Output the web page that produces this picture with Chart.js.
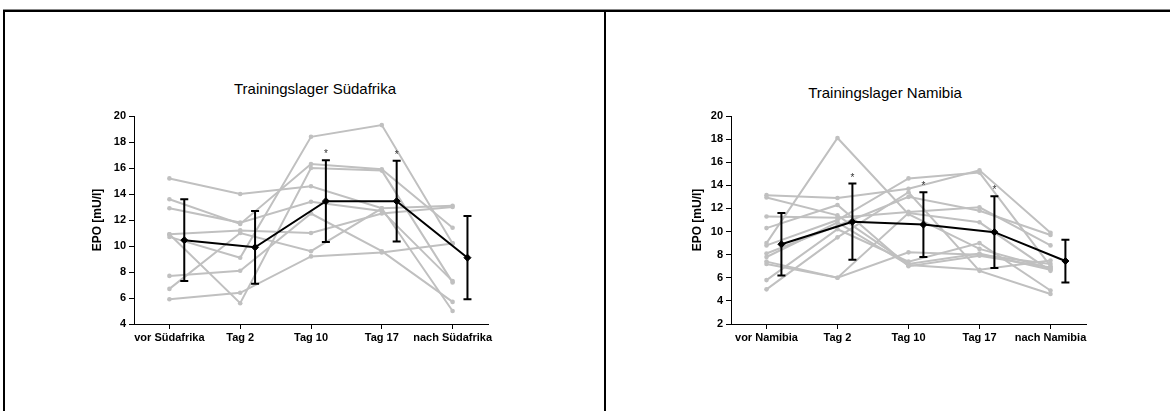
<!DOCTYPE html>
<html>
<head>
<meta charset="utf-8">
<script src="https://cdn.jsdelivr.net/npm/chart.js@4.4.1/dist/chart.umd.min.js"></script>
<style>
  html, body { margin: 0; padding: 0; background: #fff; }
  body { width: 1170px; height: 411px; position: relative; overflow: hidden; font-family: "Liberation Sans", Arial, sans-serif; }
  .ln { position: absolute; background: #000; }
  .ttl { position: absolute; font-size: 15px; color: #000; white-space: nowrap; transform: translate(-50%, -50%); }
  canvas { position: absolute; }
</style>
</head>
<body>
<div class="ln" style="left:3px; top:9px; width:1167px; height:1px; background:#888"></div>
<div class="ln" style="left:3px; top:10px; width:1167px; height:2px;"></div>
<div class="ln" style="left:3px; top:10px; width:2px; height:401px;"></div>
<div class="ln" style="left:604px; top:10px; width:2px; height:401px;"></div>

<div class="ttl" style="left:315px; top:88px;">Trainingslager Südafrika</div>
<div class="ttl" style="left:885px; top:92px;">Trainingslager Namibia</div>

<canvas id="c1" width="598" height="398" style="left:6px; top:13px;"></canvas>
<canvas id="c2" width="563" height="398" style="left:607px; top:13px;"></canvas>

<script>
// ---------- Data: Trainingslager Südafrika ----------
const categoriesSA = ['vor Südafrika', 'Tag 2', 'Tag 10', 'Tag 17', 'nach Südafrika'];
const subjectsSA = [
  [15.2, 14.0, 14.6, 12.9, 13.1],
  [13.6, 11.7, 16.3, 15.9, 11.4],
  [12.9, 11.8, 13.4, 12.7, 7.3],
  [10.9, 5.6, 16.0, 15.8, 7.2],
  [10.9, 11.2, 11.0, 12.5, 13.0],
  [10.7, 9.1, 18.4, 19.3, 10.2],
  [7.7, 8.1, 12.5, 9.6, 5.7],
  [6.7, 11.0, 9.6, 12.9, 5.0],
  [5.9, 6.4, 9.2, 9.5, 10.2]
];
const meanSA = [10.45, 9.9, 13.45, 13.45, 9.1];
const sdSA = [3.15, 2.8, 3.15, 3.1, 3.2];
const sigSA = [false, false, true, true, false];
const yTicksSA = [4, 20];

// ---------- Data: Trainingslager Namibia ----------
const categoriesNA = ['vor Namibia', 'Tag 2', 'Tag 10', 'Tag 17', 'nach Namibia'];
const subjectsNA = [
  [13.15, 12.9, 13.7, 15.3, 9.9],
  [12.95, 11.4, 7.2, 8.1, 6.7],
  [11.3, 11.2, 11.7, 12.1, 8.8],
  [10.3, 12.3, 7.0, 7.9, 6.9],
  [9.0, 18.1, 11.5, 8.5, 6.8],
  [8.8, 11.0, 14.6, 15.1, 7.0],
  [8.1, 10.5, 13.0, 11.8, 9.7],
  [7.4, 6.0, 8.2, 8.0, 7.2],
  [7.2, 6.0, 11.6, 10.8, 6.6],
  [5.8, 10.2, 7.4, 9.0, 4.9],
  [5.0, 9.5, 13.4, 6.6, 4.6],
  [7.8, 10.8, 7.1, 6.7, 7.5]
];
const meanNA = [8.9, 10.85, 10.6, 9.95, 7.45];
const sdNA = [2.7, 3.3, 2.8, 3.1, 1.85];
const sigNA = [false, true, true, true, false];
const yTicksNA = [2, 20];

const yTitle = 'EPO [mU/l]';

// ---------- Chart builder ----------
const MEAN_OFFSET = 0.21;
const GREY = '#c0c0c0';
const TICK_FONT = { family: '"Liberation Sans", Arial, sans-serif', size: 11, weight: 'bold' };
const YTITLE_FONT = { family: '"Liberation Sans", Arial, sans-serif', size: 12, weight: 'bold' };

function makeChart(id, cats, subjects, mean, sd, sig, yRange, lay) {
  const datasets = [];
  datasets.push({
    label: 'Mittelwert',
    data: mean.map((v, i) => ({ x: i + MEAN_OFFSET, y: v })),
    borderColor: '#000',
    backgroundColor: '#000',
    borderWidth: 2,
    pointStyle: 'rectRot',
    pointRadius: 3.5,
    pointBorderWidth: 1,
    tension: 0,
    order: 0
  });
  subjects.forEach((s, k) => {
    datasets.push({
      label: 'P' + (k + 1),
      data: s.map((v, i) => ({ x: i, y: v })),
      borderColor: GREY,
      backgroundColor: GREY,
      borderWidth: 2,
      pointStyle: 'circle',
      pointRadius: 2.3,
      pointBorderWidth: 0,
      tension: 0,
      order: 1
    });
  });

  const errPlugin = {
    id: 'errbars_' + id,
    afterDatasetsDraw(chart) {
      const ctx = chart.ctx, xs = chart.scales.x, ys = chart.scales.y;
      ctx.save();
      ctx.strokeStyle = '#000';
      ctx.lineWidth = 2;
      mean.forEach((m, i) => {
        const x = xs.getPixelForValue(i + MEAN_OFFSET);
        const yt = ys.getPixelForValue(m + sd[i]);
        const yb = ys.getPixelForValue(m - sd[i]);
        ctx.beginPath();
        ctx.moveTo(x, yt); ctx.lineTo(x, yb);
        ctx.moveTo(x - 4, yt); ctx.lineTo(x + 4, yt);
        ctx.moveTo(x - 4, yb); ctx.lineTo(x + 4, yb);
        ctx.stroke();
        if (sig[i]) {
          ctx.fillStyle = '#333';
          ctx.font = '10px "Liberation Sans", Arial, sans-serif';
          ctx.textAlign = 'center';
          ctx.textBaseline = 'alphabetic';
          ctx.fillText('*', x, yt - 3);
        }
      });
      ctx.restore();
    }
  };

  return new Chart(document.getElementById(id), {
    type: 'line',
    data: { datasets },
    plugins: [errPlugin],
    options: {
      responsive: false,
      animation: false,
      devicePixelRatio: 1,
      layout: { padding: lay.padding },
      plugins: { legend: { display: false }, tooltip: { enabled: false }, title: { display: false } },
      scales: {
        x: {
          type: 'linear',
          min: -0.5,
          max: cats.length - 0.5,
          afterBuildTicks: (s) => { s.ticks = cats.map((c, i) => ({ value: i })); },
          afterFit: (s) => { s.height = 30; },
          ticks: {
            autoSkip: false, maxRotation: 0, minRotation: 0, padding: 2,
            color: '#000', font: TICK_FONT,
            callback: (v) => cats[Math.round(v)] || ''
          },
          grid: { display: true, drawOnChartArea: false, drawTicks: true, tickLength: 5, color: '#000' },
          border: { display: true, color: '#000', width: 1 }
        },
        y: {
          type: 'linear',
          min: yRange[0],
          max: yRange[1],
          afterFit: (s) => { s.width = lay.yWidth; },
          ticks: { stepSize: 2, padding: 3, color: '#000', font: TICK_FONT },
          grid: { display: true, drawOnChartArea: false, drawTicks: true, tickLength: 5, color: '#000' },
          border: { display: true, color: '#000', width: 1 },
          title: { display: true, text: yTitle, color: '#000', font: YTITLE_FONT, padding: { top: 4, bottom: 4 } }
        }
      }
    }
  });
}

makeChart('c1', categoriesSA, subjectsSA, meanSA, sdSA, sigSA, yTicksSA,
  { padding: { left: 80, right: 116, top: 103, bottom: 57 }, yWidth: 48 });
makeChart('c2', categoriesNA, subjectsNA, meanNA, sdNA, sigNA, yTicksNA,
  { padding: { left: 79, right: 84, top: 103, bottom: 57 }, yWidth: 45 });
</script>
</body>
</html>
